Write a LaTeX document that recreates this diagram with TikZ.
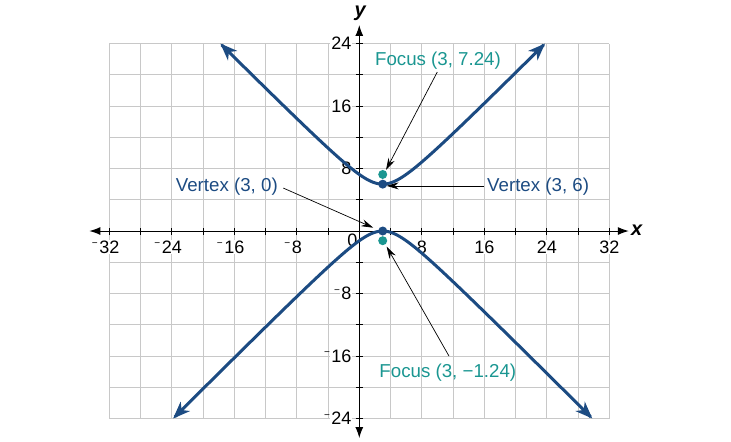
\documentclass[tikz,border=0pt]{standalone}
\usepackage{fontspec}
\setmainfont{Liberation Sans}
\usetikzlibrary{arrows.meta}
\definecolor{curveblue}{RGB}{28,75,130}
\definecolor{focusteal}{RGB}{26,150,145}
\definecolor{gridgray}{RGB}{200,200,200}
\newcommand\tmin{\llap{\raisebox{6.5pt}{\fontsize{10}{10}\selectfont −}\kern1.5pt}}
\begin{document}
\begin{tikzpicture}[x=7.8125pt,y=7.8125pt,
  font=\fontsize{18}{21}\selectfont,
  gridline/.style={gridgray, line width=1pt},
  axisline/.style={black, line width=1pt},
  axisarrows/.style={axisline, {Latex[length=11pt,width=8pt]}-{Latex[length=11pt,width=8pt]}},
  ticklab/.style={fill=white, inner sep=1pt},
  branch/.style={curveblue, line width=3pt, line cap=round,
    {Stealth[length=17pt,width=13pt,inset=5pt]}-{Stealth[length=17pt,width=13pt,inset=5pt]}},
  callout/.style={black, line width=0.7pt, -{Stealth[length=12pt,width=7pt]}},
  vlabel/.style={text=curveblue, inner sep=0pt, anchor=base west, font=\fontsize{18.7}{21}\selectfont},
  flabel/.style={text=focusteal, inner sep=0pt, anchor=base west, font=\fontsize{18.7}{21}\selectfont},
  vdot/.style={circle, fill=curveblue, inner sep=0pt, minimum size=9pt},
  fdot/.style={circle, fill=focusteal, inner sep=0pt, minimum size=9pt}]

\useasboundingbox (-45.99,-26.88) rectangle (47.58,29.57);

% grid
\foreach \g in {-32,-28,...,32} \draw[gridline] (\g,-24) -- (\g,24);
\foreach \g in {-24,-20,...,24} \draw[gridline] (-32,\g) -- (32,\g);

% axes
\coordinate (xL) at (-34.55,0);
\coordinate (xR) at (34.5,0);
\coordinate (yB) at (0,-26.5);
\coordinate (yT) at (0,26.37);
\draw[axisarrows] (xL) -- (xR);
\draw[axisarrows] (yB) -- (yT);
\foreach \t in {-32,-28,...,32} \draw[axisline] (\t,0) ++(0,-3.5pt) -- ++(0,7pt);
\foreach \t in {-24,-20,...,24} \draw[axisline] (0,\t) ++(-3.5pt,0) -- ++(7pt,0);

\node (xlab) at (35.5,0.1) {\fontsize{20}{22}\selectfont\bfseries\itshape x};
\node (ylab) at (0.1,27.9) {\fontsize{20}{22}\selectfont\bfseries\itshape y};

% tick labels
\foreach \v in {8,16,24,32} {
  \node[ticklab] (xp\v) at (\v,-2.05) {\v};
  \node[ticklab] (xn\v) at (-\v,-2.05) {\tmin\v};
}
\foreach \v in {8,16,24} {
  \node[ticklab, anchor=east] (yp\v) at (-0.85,\v) {\v};
  \node[ticklab, anchor=east] (yn\v) at (-0.85,-\v) {\tmin\v};
}
\node[inner sep=0pt] (zero) at (-0.87,-1.25) {0};

% hyperbola branches
\draw[branch] plot[domain=-17.78:23.78, samples=241, smooth] (\x, {3+sqrt(9+(\x-3)*(\x-3))});
\draw[branch] plot[domain=-23.83:29.83, samples=241, smooth] (\x, {3-sqrt(9+(\x-3)*(\x-3))});

% labels
\node[flabel] (fu) at (2.0,21.16) {Focus (3, 7.24)};
\node[vlabel] (vu) at (16.35,5.03) {Vertex (3, 6)};
\node[vlabel] (vl) at (-23.5,5.03) {Vertex (3, 0)};
\node[flabel] (fl) at (2.56,-18.73) {Focus (3, −1.24)};

% callouts
\coordinate (fuA) at (9.98,20.35);
\coordinate (fuT) at (3.42,7.81);
\coordinate (vuA) at (15.96,5.78);
\coordinate (vuT) at (3.5,5.78);
\coordinate (vlA) at (-9.73,5.5);
\coordinate (vlT) at (1.79,0.42);
\coordinate (flA) at (11.48,-16.0);
\coordinate (flT) at (3.5,-2.0);
\draw[callout] (fuA) -- (fuT);
\draw[callout] (vuA) -- (vuT);
\draw[callout] (vlA) -- (vlT);
\draw[callout] (flA) -- (flT);

% points
\node[vdot] (v1) at (3,6) {};
\node[fdot] (f1) at (3,7.24) {};
\node[vdot] (v2) at (3,0) {};
\node[fdot] (f2) at (3,-1.24) {};
\end{tikzpicture}
\end{document}
